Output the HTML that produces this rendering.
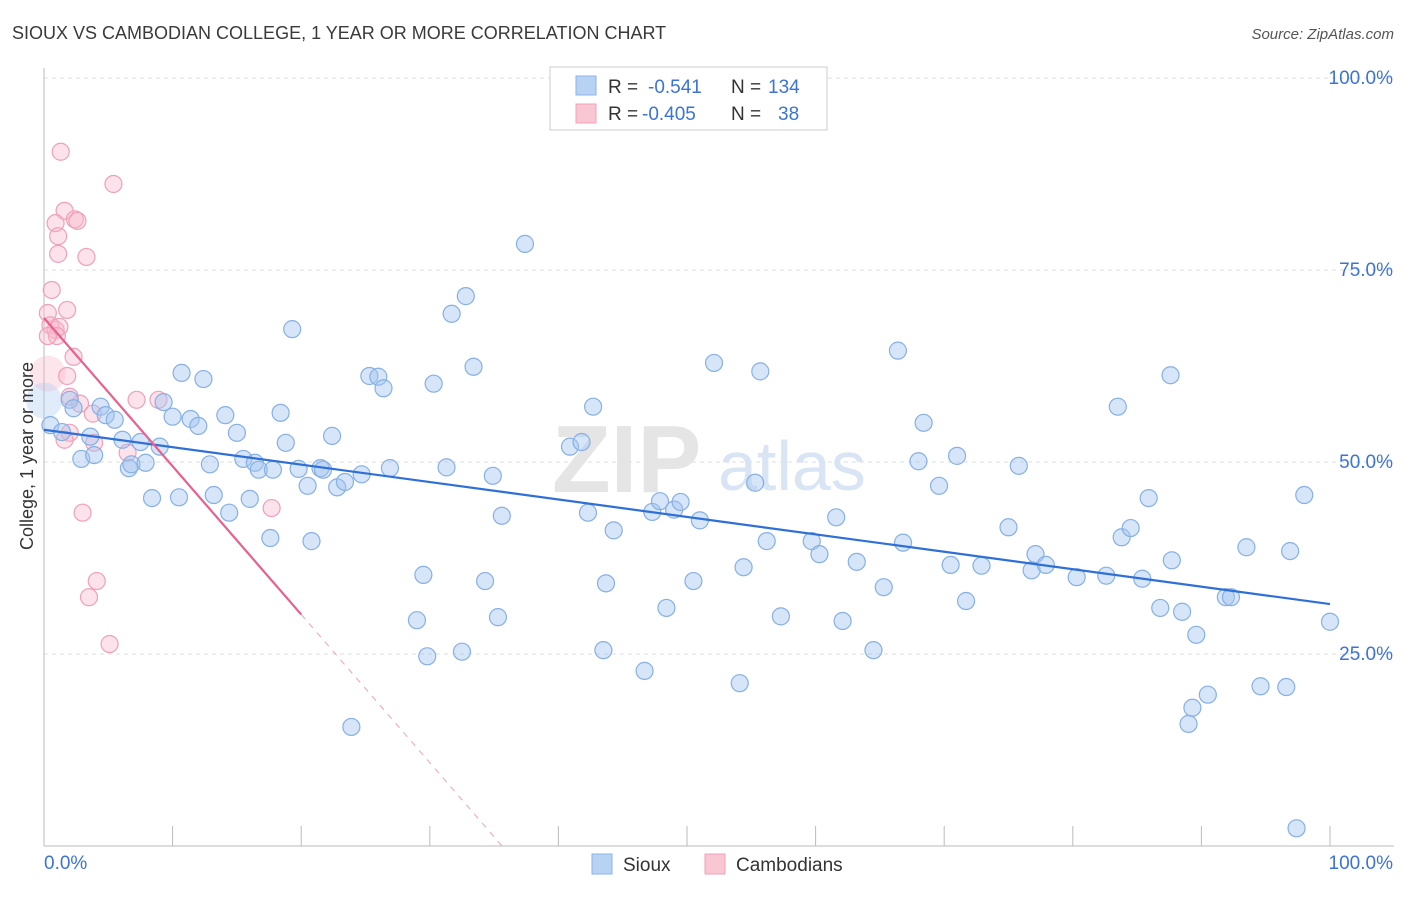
<!DOCTYPE html>
<html><head><meta charset="utf-8"><style>
body{margin:0;background:#fff;font-family:"Liberation Sans",sans-serif}
svg text{font-family:"Liberation Sans",sans-serif}
</style></head><body>
<svg id="chart" width="1406" height="892" xmlns="http://www.w3.org/2000/svg">
<text x="12" y="39" font-size="18" fill="#3a3a3a">SIOUX VS CAMBODIAN COLLEGE, 1 YEAR OR MORE CORRELATION CHART</text>
<text x="1394" y="39" font-size="15" fill="#555" text-anchor="end" font-style="italic">Source: ZipAtlas.com</text>
<g id="grid"></g>
<g opacity="0.9">
<text x="552" y="492" font-size="96" font-family="Liberation Serif" fill="#e3e3e3" font-weight="bold">ZIP</text>
<text x="718" y="490" font-size="70" fill="#d5e3f3">atlas</text>
</g>
<g id="axes"></g>
<g id="pink-points"></g>
<g id="blue-points"></g>
<g id="trends"></g>
<text transform="translate(33,456) rotate(-90)" font-size="18" fill="#333" text-anchor="middle">College, 1 year or more</text>
<g>
<rect x="550" y="67" width="277" height="63" fill="#fff" stroke="#ccc"/>
<rect x="576" y="76" width="20" height="19" fill="#b8d2f3" stroke="#8ab4e8"/>
<rect x="576" y="104" width="20" height="19" fill="#f9c6d4" stroke="#f2a0b8"/>
<text x="608" y="93" font-size="19" fill="#333">R =</text><text x="648" y="93" font-size="19" fill="#3b73d8">-0.541</text>
<text x="731" y="93" font-size="19" fill="#333">N =</text><text x="768" y="93" font-size="19" fill="#3b73d8">134</text>
<text x="608" y="120" font-size="19" fill="#333">R =</text><text x="642" y="120" font-size="19" fill="#3b73d8">-0.405</text>
<text x="731" y="120" font-size="19" fill="#333">N =</text><text x="778" y="120" font-size="19" fill="#3b73d8">38</text>
</g>
<g>
<rect x="592" y="854" width="20" height="20" fill="#b8d2f3" stroke="#8ab4e8"/>
<text x="623" y="871" font-size="19" fill="#333">Sioux</text>
<rect x="705" y="854" width="20" height="20" fill="#f9c6d4" stroke="#f2a0b8"/>
<text x="736" y="871" font-size="19" fill="#333">Cambodians</text>
</g>
</svg>
<script>
const yTicks=[25,50,75,100];
const yTickLabels=["25.0%","50.0%","75.0%","100.0%"];
const xTicks=[0,10,20,30,40,50,60,70,80,90,100];
const blueX=[0.5,1.4,2.0,2.3,2.9,3.6,3.9,4.4,4.8,5.5,6.1,6.6,6.8,7.5,7.9,8.4,9.0,9.3,10.0,10.5,10.7,11.4,12.0,12.4,12.9,13.2,14.1,14.4,15.0,15.5,16.0,16.4,16.7,17.6,17.8,18.4,18.8,19.3,19.8,20.5,20.8,21.5,21.7,22.4,22.8,23.4,23.9,24.7,25.3,26.0,26.4,26.9,29.0,29.5,29.8,30.3,31.3,31.7,32.5,32.8,33.4,34.3,34.9,35.3,35.6,37.4,40.9,41.8,42.3,42.7,43.5,43.7,44.3,46.7,47.3,47.9,48.4,49.0,49.5,50.5,51.0,52.1,54.1,54.4,55.3,55.7,56.2,57.3,59.7,60.3,61.6,62.1,63.2,64.5,65.3,66.4,66.8,68.0,68.4,69.6,70.5,71.0,71.7,72.9,75.0,75.8,76.8,77.1,77.9,80.3,82.6,83.5,83.8,84.5,85.4,85.9,86.8,87.6,87.7,88.5,89.0,89.3,89.6,90.5,91.9,92.3,93.5,94.6,96.6,96.9,98.0,97.4,100];
const blueY=[54.8,53.9,58.1,57.0,50.4,53.3,50.9,57.2,56.1,55.5,52.9,49.2,49.7,52.6,49.9,45.3,52.0,57.8,55.9,45.4,61.6,55.6,54.7,60.8,49.7,45.7,56.1,43.4,53.8,50.4,45.2,49.9,49.0,40.1,49.0,56.4,52.5,67.3,49.1,46.9,39.7,49.2,49.0,53.4,46.7,47.4,15.5,48.4,61.2,61.1,59.6,49.2,29.4,35.3,24.7,60.2,49.3,69.3,25.3,71.6,62.4,34.5,48.2,29.8,43.0,78.4,52.0,52.6,43.4,57.2,25.5,34.2,41.1,22.8,43.5,44.9,31.0,43.8,44.8,34.5,42.4,62.9,21.2,36.3,47.3,61.8,39.7,29.9,39.7,38.0,42.8,29.3,37.0,25.5,33.7,64.5,39.5,50.1,55.1,46.9,36.6,50.8,31.9,36.5,41.5,49.5,35.9,38.0,36.6,35.0,35.2,57.2,40.2,41.4,34.8,45.3,31.0,61.3,37.2,30.5,15.9,18.0,27.5,19.7,32.4,32.4,38.9,20.8,20.7,38.4,45.7,2.3,29.2];
const pinkX=[1.3,5.4,1.6,0.9,2.4,2.6,1.1,1.1,3.3,0.6,0.3,1.8,0.5,0.9,1.2,1.0,0.3,2.3,1.8,2.0,2.8,3.8,7.2,8.9,2.0,1.6,3.9,6.5,3.0,17.7,4.1,3.5,5.1];
const pinkY=[90.4,86.2,82.7,81.1,81.6,81.4,79.4,77.1,76.7,72.4,69.4,69.8,67.8,67.2,67.6,66.4,66.4,63.7,61.2,58.5,57.6,56.3,58.1,58.1,53.8,52.9,52.5,51.2,43.4,44.0,34.5,32.4,26.3];
const blueTrend=[54.2,31.5];   // y at x=0 and x=100
const pinkTrend=[68.75,-1.93]; // intercept, slope per %
const NS="http://www.w3.org/2000/svg";
const X=v=>44+v*12.86, Y=v=>846-v*7.68;
function mk(p,tag,a){const e=document.createElementNS(NS,tag);for(const k in a)e.setAttribute(k,a[k]);p.appendChild(e);return e;}
const grid=document.getElementById('grid'),axes=document.getElementById('axes');
yTicks.forEach((t,i)=>{
 const l=mk(grid,'line',{x1:44,x2:1394,y1:Y(t),y2:Y(t),stroke:'#ddd','stroke-dasharray':'4,4'});
 
 
 const tx=mk(grid,'text',{x:1393,y:Y(t)+6,'font-size':19,fill:'#3b73d8','text-anchor':'end'});
 tx.textContent=yTickLabels[i];
 
 
});
mk(axes,'line',{x1:44,x2:44,y1:68,y2:846,stroke:'#bbb'});
mk(axes,'line',{x1:44,x2:1394,y1:846,y2:846,stroke:'#bbb'});
xTicks.forEach(t=>{const l=mk(axes,'line',{x1:X(t),x2:X(t),y1:826,y2:846,stroke:'#bbb'});
 
 });
let a=mk(axes,'text',{x:44,y:869,'font-size':19,fill:'#3b73d8'});a.textContent='0.0%';

a=mk(axes,'text',{x:1393,y:869,'font-size':19,fill:'#3b73d8','text-anchor':'end'});a.textContent='100.0%';

const pg=document.getElementById('pink-points'),bg=document.getElementById('blue-points');
let big=mk(pg,'circle',{cx:X(0.3),cy:Y(61.5),r:18,fill:'rgba(248,180,200,0.35)'});

pinkX.forEach((x,i)=>{const c=mk(pg,'circle',{cx:X(x),cy:Y(pinkY[i]),r:8.5,fill:'rgba(248,182,202,0.4)',stroke:'#f0a0b8','stroke-width':1.2});
 
 });
big=mk(bg,'circle',{cx:X(0),cy:Y(58),r:18,fill:'rgba(170,200,240,0.35)'});

blueX.forEach((x,i)=>{const c=mk(bg,'circle',{cx:X(x),cy:Y(blueY[i]),r:8.5,fill:'rgba(165,198,240,0.45)',stroke:'#86b0e6','stroke-width':1.2});
 
 });
const tg=document.getElementById('trends');
let t=mk(tg,'line',{x1:X(0),y1:Y(blueTrend[0]),x2:X(100),y2:Y(blueTrend[1]),stroke:'#2f6fd8','stroke-width':2.2});

const pY=x=>pinkTrend[0]+pinkTrend[1]*x, zero=-pinkTrend[0]/pinkTrend[1];
t=mk(tg,'line',{x1:X(0),y1:Y(pY(0)),x2:X(20),y2:Y(pY(20)),stroke:'#e8608f','stroke-width':2.2});

t=mk(tg,'line',{x1:X(20),y1:Y(pY(20)),x2:X(zero),y2:Y(0),stroke:'#eea0b8','stroke-width':1,'stroke-dasharray':'6,6'});

</script>
</body></html>
